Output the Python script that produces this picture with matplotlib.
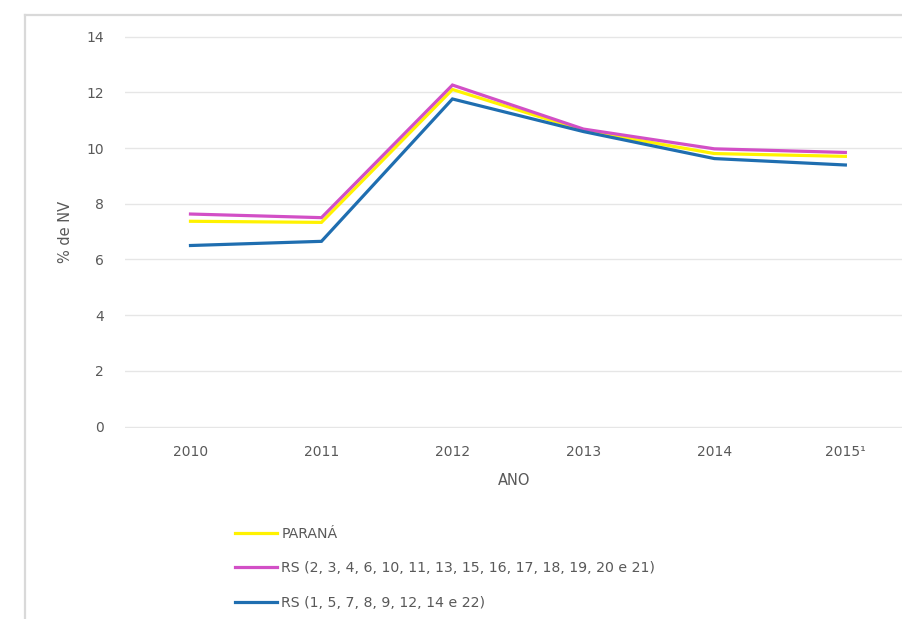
import matplotlib
matplotlib.use("Agg")
import matplotlib.pyplot as plt
from matplotlib.lines import Line2D

plt.rcParams['font.family'] = ['DejaVu Sans']

# dados
anos = ['2010', '2011', '2012', '2013', '2014', '2015¹']
parana = [7.37, 7.33, 12.1, 10.63, 9.8, 9.7]
rs_a = [7.63, 7.5, 12.26, 10.68, 9.97, 9.84]
rs_b = [6.5, 6.65, 11.76, 10.59, 9.62, 9.39]

nomes = ['PARANÁ',
         'RS (2, 3, 4, 6, 10, 11, 13, 15, 16, 17, 18, 19, 20 e 21)',
         'RS (1, 5, 7, 8, 9, 12, 14 e 22)']
cores = ['#fff200', '#d24fc6', '#1f6eb0']
texto = '#595959'

W, H = 903, 619
fig = plt.figure(figsize=(W / 100, H / 100), dpi=100)

# moldura cinza clara (grafico recortado)
fig.add_artist(Line2D([25 / W, 25 / W], [0, 1 - 15 / H], color='#d9d9d9', lw=1.6,
                      transform=fig.transFigure))
fig.add_artist(Line2D([25 / W, 1], [1 - 15 / H, 1 - 15 / H], color='#d9d9d9', lw=1.6,
                      transform=fig.transFigure))

ax = fig.add_axes([125 / W, 1 - 428 / H, (W - 125) / W, 392 / H])
x = list(range(len(anos)))
for serie, nome, cor in zip([parana, rs_a, rs_b], nomes, cores):
    ax.plot(x, serie, color=cor, lw=2.3, label=nome, solid_joinstyle='miter')

ax.set_xlim(-0.5, 5.44)
ax.set_ylim(-0.05, 14.02)
ax.set_yticks(range(0, 15, 2))
ax.set_xticks(x)
ax.set_xticklabels(anos)
ax.grid(axis='y', color='#e6e6e6', lw=1)
ax.set_axisbelow(True)
for s in ax.spines.values():
    s.set_visible(False)
ax.tick_params(length=0, colors=texto, labelsize=10)
ax.tick_params(axis='y', pad=15)
ax.tick_params(axis='x', pad=12)
ax.set_xlabel('ANO', color=texto, fontsize=10.5, labelpad=10)
ax.set_ylabel('% de NV', color=texto, fontsize=10.5, labelpad=10)

leg = fig.legend(loc='upper left', bbox_to_anchor=(222 / W, 1 - 514 / H), frameon=False,
                 handlelength=3.0, handletextpad=0.3, labelspacing=1.45, fontsize=10.2)
for t in leg.get_texts():
    t.set_color(texto)

fig.savefig('out.png', dpi=100)
